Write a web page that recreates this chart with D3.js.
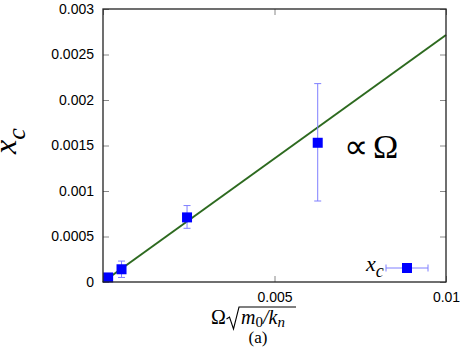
<!DOCTYPE html>
<html>
<head>
<meta charset="utf-8">
<script src="https://cdn.jsdelivr.net/npm/d3@7"></script>
<style>
    body { margin: 0; background: #fff; }
    svg { display: block; }
</style>
</head>
<body>
<svg class="canvas" width="463" height="348"></svg>
<script>
// measured points: omega*sqrt(m0/kn) vs x_c
const xVals = [0.00015, 0.00054, 0.00245, 0.00626];
const yVals = [0.00005, 0.00014, 0.00071, 0.00153];
const yLow = [0.00004, 0.00005, 0.00059, 0.00089];
const yHigh = [0.00006, 0.00023, 0.00084, 0.00218];

const fitSlope = 0.2714;
const fitX = [0, 0.01];

const xTicks = [0, 0.005, 0.01];
const xTickLabels = ['', '0.005', '0.01'];
const yTicks = [0, 0.0005, 0.001, 0.0015, 0.002, 0.0025, 0.003];
const yTickLabels = ['0', '0.0005', '0.001', '0.0015', '0.002', '0.0025', '0.003'];

const points = xVals.map((x, i) => ({x, y: yVals[i], lo: yLow[i], hi: yHigh[i]}));

const margin = {left: 103, top: 9, right: 17, bottom: 66};
const width = 463 - margin.left - margin.right,
    height = 348 - margin.top - margin.bottom;

const canvas = d3.select('.canvas');
const sans = 'Liberation Sans, Arial, sans-serif',
    serif = 'Liberation Serif, Times New Roman, serif';

const x = d3.scaleLinear().domain([0, 0.01]).range([margin.left, margin.left + width]);
const y = d3.scaleLinear().domain([0, 0.003]).range([margin.top + height, margin.top]);

// ticks (inward, mirrored)
const tickLen = 6;
const axisGroup = canvas.append('g');
axisGroup.append('g')
    .attr('transform', `translate(${margin.left},0)`)
    .call(d3.axisLeft(y).tickValues(yTicks).tickSize(-tickLen).tickFormat((d, i) => yTickLabels[i]).tickPadding(9))
    .call(g => g.select('.domain').remove());
axisGroup.append('g')
    .attr('transform', `translate(${margin.left + width},0)`)
    .call(d3.axisRight(y).tickValues(yTicks).tickSize(-tickLen).tickFormat(''))
    .call(g => g.select('.domain').remove());
axisGroup.append('g')
    .attr('transform', `translate(0,${margin.top + height})`)
    .call(d3.axisBottom(x).tickValues(xTicks).tickSize(-tickLen).tickFormat((d, i) => xTickLabels[i]).tickPadding(10))
    .call(g => g.select('.domain').remove());
axisGroup.append('g')
    .attr('transform', `translate(0,${margin.top})`)
    .call(d3.axisTop(x).tickValues(xTicks).tickSize(-tickLen).tickFormat(''))
    .call(g => g.select('.domain').remove());
axisGroup.selectAll('.tick line').attr('stroke', '#888').attr('stroke-width', 1);
axisGroup.selectAll('.tick text')
    .attr('fill', '#000')
    .style('font-family', sans)
    .style('font-size', '14px');

// fit line
canvas.append('path')
    .datum(fitX)
    .attr('fill', 'none')
    .attr('stroke', '#2d6a1f')
    .attr('stroke-width', 2)
    .attr('d', d3.line().x(d => x(d)).y(d => y(fitSlope * d)));

// error bars
const capW = 3.5;
const eb = canvas.append('g')
    .attr('stroke', '#7f7fff')
    .attr('stroke-width', 1);
eb.selectAll('line.bar')
    .data(points)
    .enter()
    .append('line')
    .attr('x1', d => x(d.x)).attr('x2', d => x(d.x))
    .attr('y1', d => y(d.lo)).attr('y2', d => y(d.hi));
eb.selectAll('line.capHi')
    .data(points)
    .enter()
    .append('line')
    .attr('x1', d => x(d.x) - capW).attr('x2', d => x(d.x) + capW)
    .attr('y1', d => y(d.hi)).attr('y2', d => y(d.hi));
eb.selectAll('line.capLo')
    .data(points)
    .enter()
    .append('line')
    .attr('x1', d => x(d.x) - capW).attr('x2', d => x(d.x) + capW)
    .attr('y1', d => y(d.lo)).attr('y2', d => y(d.lo));

// points
const sq = 10;
canvas.append('g')
    .selectAll('rect')
    .data(points)
    .enter()
    .append('rect')
    .attr('x', d => x(d.x) - sq / 2)
    .attr('y', d => y(d.y) - sq / 2)
    .attr('width', sq)
    .attr('height', sq)
    .attr('fill', '#0000ff');

// frame
canvas.append('rect')
    .attr('x', margin.left).attr('y', margin.top)
    .attr('width', width).attr('height', height)
    .attr('fill', 'none')
    .attr('stroke', '#222')
    .attr('stroke-width', 1.3);

// legend
const lg = canvas.append('g');
lg.append('line').attr('x1', 386).attr('x2', 428).attr('y1', 268).attr('y2', 268)
    .attr('stroke', '#7f7fff');
[386, 428].forEach(px => lg.append('line').attr('x1', px).attr('x2', px).attr('y1', 264.5).attr('y2', 271.5)
    .attr('stroke', '#7f7fff'));
lg.append('rect').attr('x', 402).attr('y', 263).attr('width', sq).attr('height', sq).attr('fill', '#0000ff');
const lgText = lg.append('text')
    .attr('x', 366).attr('y', 271)
    .style('font-family', serif)
    .style('font-style', 'italic')
    .style('font-size', '22px');
lgText.append('tspan').text('x');
lgText.append('tspan').attr('dy', 6).style('font-size', '18px').text('c');

// proportional annotation
const ann = canvas.append('text')
    .attr('y', 158)
    .style('font-family', serif)
    .style('font-size', '34px');
ann.append('tspan').attr('x', 344).text('∝');
ann.append('tspan').attr('x', 373).text('Ω');

// y label
const yl = canvas.append('text')
    .attr('transform', 'translate(16,154) rotate(-90)')
    .style('font-family', serif)
    .style('font-style', 'italic')
    .style('font-size', '32px');
yl.append('tspan').text('x');
yl.append('tspan').attr('dy', 9).style('font-size', '26px').text('c');

// x label: Omega sqrt(m0/kn)
const xl = canvas.append('g');
xl.append('text')
    .attr('x', 211).attr('y', 324)
    .style('font-family', serif)
    .style('font-size', '20px')
    .text('Ω');
xl.append('path')
    .attr('d', 'M226.5,319 L229.5,317 L233.5,329 L239,307 L296,307')
    .attr('fill', 'none')
    .attr('stroke', '#000')
    .attr('stroke-width', 1.1);
const xt = xl.append('text')
    .attr('x', 241).attr('y', 324)
    .style('font-family', serif)
    .style('font-style', 'italic')
    .style('font-size', '20px');
xt.append('tspan').text('m');
xt.append('tspan').attr('dy', 3).style('font-size', '15px').style('font-style', 'normal').text('0');
xt.append('tspan').attr('dy', -3).text('/k');
xt.append('tspan').attr('dy', 3).style('font-size', '15px').text('n');
canvas.append('text')
    .attr('x', 258).attr('y', 343)
    .attr('text-anchor', 'middle')
    .style('font-family', serif)
    .style('font-size', '17px')
    .text('(a)');
</script>
</body>
</html>
